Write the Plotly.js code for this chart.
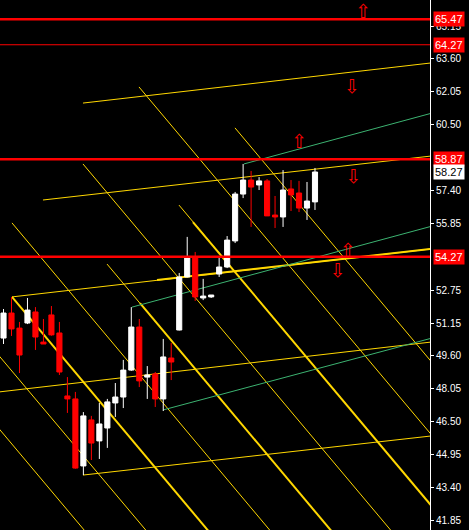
<!DOCTYPE html>
<html>
<head>
<meta charset="utf-8">
<script src="https://cdn.plot.ly/plotly-3.0.1.min.js"></script>
<style>
html,body{margin:0;padding:0;background:#000;}
#chart{width:469px;height:530px;}
</style>
</head>
<body>
<div id="chart"></div>
<script>
// ---- candle data (bar index, OHLC) ----
const barIndex = [0,1,2,3,4,5,6,7,8,9,10,11,12,13,14,15,16,17,18,19,20,21,22,23,24,25,26,27,28,29,30,31,32,33,34,35,36,37,38,39];
const openP  = [50.44,51.62,50.91,51.15,51.67,50.25,51.53,50.68,47.71,47.57,44.41,46.58,45.59,46.20,47.38,47.66,48.93,50.96,48.60,48.75,47.57,49.50,50.82,53.32,54.26,52.33,52.38,53.46,53.79,55.02,57.23,57.89,57.66,57.85,56.24,56.15,57.47,57.28,56.57,56.86];
const highP  = [51.81,52.38,51.20,52.33,51.90,51.34,51.95,51.20,48.60,47.90,46.95,46.77,47.38,47.57,48.32,49.41,51.90,51.34,49.12,48.84,50.40,50.21,53.51,55.21,54.50,53.23,52.47,54.26,55.25,57.33,58.65,58.32,58.03,57.94,57.14,58.36,57.89,57.85,57.80,58.46];
const lowP   = [50.16,50.54,48.79,51.10,49.88,50.16,50.55,48.70,46.91,44.28,43.98,44.69,44.74,45.26,46.72,47.14,48.89,48.13,47.57,47.19,47.00,48.46,50.80,53.30,52.19,52.23,52.33,53.32,53.74,54.92,57.04,55.68,57.42,56.20,55.63,55.68,56.43,56.38,56.01,56.48];
const closeP = [51.62,50.87,49.64,51.76,50.49,50.16,50.59,48.84,47.57,44.31,46.77,45.49,46.39,47.43,47.66,48.93,50.96,48.42,48.70,47.57,49.55,49.31,53.32,54.26,52.38,52.42,52.47,53.79,55.06,57.23,57.89,57.56,57.85,56.20,56.15,57.42,57.19,56.57,56.90,58.27];

// ---- axis ticks ----
const tickValues = [41.85,43.40,44.95,46.50,48.05,49.60,51.15,52.70,55.85,57.40,60.50,62.05,63.60,65.15];
const tickLabels = ["41.85","43.40","44.95","46.50","48.05","49.60","51.15","52.75","55.85","57.40","60.50","62.05","63.60","65.15"];

// ---- horizontal price levels ----
const levelPrices = [65.47,64.27,58.87,54.27];
const levelLabels = ["65.47","64.27","58.87","54.27"];
const lastPrice = 58.27;

// ---- descending thin yellow lines: start (bar, price) -> end (bar, price) ----
const dThinX0 = [-1.69,-1.69, 1.06,12.96, 9.95,21.97,16.96,28.98];
const dThinP0 = [46.67,50.11,55.87,53.93,58.65,56.71,62.28,60.35];
const dThinX1 = [10.83,18.97,34.37,42.00,49.51,54.65,54.65,54.65];
const dThinP1 = [41.06,40.87,40.92,40.92,40.92,42.05,45.40,48.84];

// ---- descending thick yellow lines ----
const dThickX0 = [ 1.06,17.09,23.72];
const dThickP0 = [52.38,52.09,55.91];
const dThickX1 = [26.60,42.00,54.65];
const dThickP1 = [40.92,40.92,42.05];

// ---- ascending yellow lines ----
const aThinX0 = [ 9.95, 4.94, 1.06,-1.69, 9.95];
const aThinP0 = [61.52,56.95,52.38,47.85,43.98];
const aThinX1 = [54.65,54.65,54.65,54.65,54.65];
const aThinP1 = [63.46,59.07,54.69,50.30,45.87];
const aThickX0 = [19.22];
const aThickP0 = [53.18];
const aThickX1 = [54.65];
const aThickP1 = [54.69];

// ---- green channel lines ----
const gX0 = [30.11,16.09,19.97];
const gP0 = [58.65,51.90,47.05];
const gX1 = [54.65,54.65,54.65];
const gP1 = [61.15,55.82,50.54];

// ---- arrow objects ----
const upArrowX = [45.0,37.0,43.1];
const upArrowP = [65.74,59.64,54.50];
const dnArrowX = [43.6,43.8,41.8];
const dnArrowP = [62.23,57.99,53.56];

const YEL = '#FFD700', GRN = '#3CB371', RED = '#FF0000';
const shapes = [];
function addLines(x0,p0,x1,p1,color,width){
  for(let k=0;k<x0.length;k++){
    shapes.push({type:'line',xref:'x',yref:'y',x0:x0[k],y0:p0[k],x1:x1[k],y1:p1[k],
      line:{color:color,width:width},layer:'below'});
  }
}
addLines(dThinX0,dThinP0,dThinX1,dThinP1,YEL,1);
addLines(dThickX0,dThickP0,dThickX1,dThickP1,YEL,2);
addLines(aThinX0,aThinP0,aThinX1,aThinP1,YEL,1);
addLines(aThickX0,aThickP0,aThickX1,aThickP1,YEL,2);
addLines(gX0,gP0,gX1,gP1,GRN,1);
const levelWidths = [2.5,1,2.5,2.5];
levelPrices.forEach((p,k)=>{
  shapes.push({type:'line',xref:'paper',yref:'y',x0:0,x1:1,y0:p,y1:p,
    line:{color:RED,width:levelWidths[k]},layer:'above'});
});

const annotations = levelPrices.map((p,k)=>({
  xref:'paper',yref:'y',x:1,y:p,xanchor:'left',yanchor:'middle',xshift:3,
  text:levelLabels[k],showarrow:false,bgcolor:RED,borderpad:1,
  font:{family:'Liberation Sans, Arial, sans-serif',size:11,color:'#fff'}
}));
annotations.push({xref:'paper',yref:'y',x:1,y:lastPrice,xanchor:'left',yanchor:'middle',xshift:3,
  text:lastPrice.toFixed(2),showarrow:false,bgcolor:'#fff',borderpad:1,
  font:{family:'Liberation Sans, Arial, sans-serif',size:11,color:'#000'}});

const traces = [
  {type:'candlestick',x:barIndex,open:openP,high:highP,low:lowP,close:closeP,
   increasing:{line:{color:'#fff',width:1},fillcolor:'#fff'},
   decreasing:{line:{color:RED,width:1},fillcolor:RED},
   whiskerwidth:0,hoverinfo:'skip'},
  {type:'scatter',mode:'text',x:upArrowX,y:upArrowP,text:upArrowX.map(()=>'⇧'),
   textfont:{family:'DejaVu Sans',size:19,color:RED},textposition:'middle center',hoverinfo:'skip',cliponaxis:false},
  {type:'scatter',mode:'text',x:dnArrowX,y:dnArrowP,text:dnArrowX.map(()=>'⇩'),
   textfont:{family:'DejaVu Sans',size:19,color:RED},textposition:'middle center',hoverinfo:'skip',cliponaxis:false}
];

const layout = {
  width:469,height:530,
  paper_bgcolor:'#000',plot_bgcolor:'#000',
  margin:{l:0,r:39,t:0,b:0,pad:0},
  showlegend:false,
  boxgap:0.2,boxgroupgap:0.2,
  xaxis:{range:[-0.44,53.4],visible:false,showgrid:false,zeroline:false,rangeslider:{visible:false},fixedrange:true},
  yaxis:{range:[41.39,66.38],side:'right',showgrid:false,zeroline:false,
    showline:true,linecolor:'#fff',linewidth:1,ticks:'outside',ticklen:3,tickcolor:'#fff',
    tickvals:tickValues,ticktext:tickLabels,
    tickfont:{family:'Liberation Sans, Arial, sans-serif',size:10,color:'#fff'},fixedrange:true},
  shapes:shapes,
  annotations:annotations
};
Plotly.newPlot('chart',traces,layout,{staticPlot:true,displayModeBar:false});
</script>
</body>
</html>
